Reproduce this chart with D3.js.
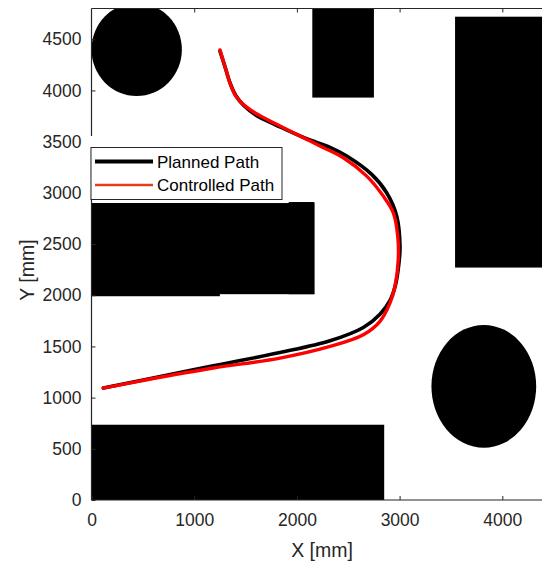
<!DOCTYPE html>
<html>
<head>
<meta charset="utf-8">
<script src="https://cdn.jsdelivr.net/npm/d3@7"></script>
<style>
  html, body { margin: 0; padding: 0; background: #fff; }
  svg { display: block; }
  text { font-family: "Liberation Sans", Arial, Helvetica, sans-serif; }
</style>
</head>
<body>
<svg id="chart" width="542" height="562"></svg>
<script>
// ---- data ----
const xTicks = [0, 1000, 2000, 3000, 4000];
const yTicks = [0, 500, 1000, 1500, 2000, 2500, 3000, 3500, 4000, 4500];

// rectangular obstacles: [x0, x1, y0, y1] in mm
const rectObstacles = [
  [2150, 2750, 3930, 4800],
  [3540, 4400, 2270, 4720],
  [0, 1250, 1990, 2900],
  [0, 2170, 2010, 2900],
  [1920, 2170, 2010, 2910],
  [0, 2850, 0, 735]
];
// elliptical obstacles: [cx, cy, rx, ry] in mm
const ellipseObstacles = [
  [440, 4400, 440, 455],
  [3820, 1110, 510, 600]
];

const plannedX = [115, 540, 1186, 1835, 2322, 2647, 2809, 2907, 2960, 2994, 3004, 2972, 2874, 2728, 2485, 2322, 2108, 1884, 1740, 1602, 1480, 1405, 1350, 1305, 1251];
const plannedY = [1093, 1180, 1310, 1440, 1555, 1685, 1815, 1950, 2100, 2316, 2478, 2772, 3001, 3180, 3359, 3444, 3523, 3622, 3688, 3758, 3855, 3950, 4070, 4215, 4384];

const controlledX = [115, 537, 1186, 1835, 2322, 2647, 2809, 2907, 2955, 2987, 2982, 2939, 2841, 2680, 2452, 2225, 2062, 1835, 1700, 1575, 1460, 1395, 1345, 1300, 1251];
const controlledY = [1093, 1174, 1289, 1386, 1500, 1614, 1745, 1925, 2087, 2348, 2576, 2805, 2968, 3163, 3343, 3457, 3539, 3653, 3720, 3792, 3880, 3962, 4082, 4232, 4396];

const seriesNames = ["Planned Path", "Controlled Path"];

// ---- layout ----
const svg = d3.select("#chart");
const x = d3.scaleLinear().domain([0, 4400]).range([91.5, 91.5 + 4400 * 0.1027]);
const y = d3.scaleLinear().domain([0, 4800]).range([500, 8.5]);
const pLeft = x(0), pBottom = y(0), pTop = y(4800), pRight = x(4400);

svg.append("defs").append("clipPath").attr("id", "plotclip")
  .append("rect").attr("x", pLeft).attr("y", pTop).attr("width", pRight - pLeft).attr("height", pBottom - pTop);

const plot = svg.append("g").attr("clip-path", "url(#plotclip)");

// obstacles
plot.selectAll("rect.obs").data(rectObstacles).enter().append("rect")
  .attr("class", "obs")
  .attr("x", d => x(d[0]))
  .attr("y", d => y(d[3]))
  .attr("width", d => x(d[1]) - x(d[0]))
  .attr("height", d => y(d[2]) - y(d[3]))
  .attr("fill", "#000");

plot.selectAll("ellipse.obs").data(ellipseObstacles).enter().append("ellipse")
  .attr("class", "obs")
  .attr("cx", d => x(d[0]))
  .attr("cy", d => y(d[1]))
  .attr("rx", d => x(d[2]) - x(0))
  .attr("ry", d => y(0) - y(d[3]))
  .attr("fill", "#000");

// paths
const line = d3.line().x(d => x(d[0])).y(d => y(d[1])).curve(d3.curveCatmullRom.alpha(0.5));
const planned = plannedX.map((v, i) => [v, plannedY[i]]);
const controlled = controlledX.map((v, i) => [v, controlledY[i]]);

plot.append("path").datum(planned).attr("d", line)
  .attr("fill", "none").attr("stroke", "#000").attr("stroke-width", 3.6)
  .attr("stroke-linejoin", "round").attr("stroke-linecap", "round");
plot.append("path").datum(controlled).attr("d", line)
  .attr("fill", "none").attr("stroke", "#ff0000").attr("stroke-width", 3.4)
  .attr("stroke-linejoin", "round").attr("stroke-linecap", "round");

// axes
const axisColor = "#262626";
const xAxis = svg.append("g").attr("transform", `translate(0,${pBottom})`)
  .call(d3.axisBottom(x).tickValues(xTicks).tickSize(-4).tickPadding(14).tickFormat(d3.format("d")));
const xTop = svg.append("g").attr("transform", `translate(0,${pTop})`)
  .call(d3.axisTop(x).tickValues(xTicks).tickSize(-4).tickFormat(""));
const yAxis = svg.append("g").attr("transform", `translate(${pLeft},0)`)
  .call(d3.axisLeft(y).tickValues(yTicks).tickSize(-4).tickPadding(10).tickFormat(d3.format("d")));

[xAxis, xTop, yAxis].forEach(g => {
  g.select(".domain").remove();
  g.selectAll(".tick line").attr("stroke", axisColor).attr("stroke-width", 1);
  g.selectAll(".tick text").attr("fill", "#262626").attr("font-size", 17.5);
});
xTop.selectAll(".tick").filter(d => d === 0).remove();

// box lines
svg.append("line").attr("x1", pLeft).attr("x2", pLeft).attr("y1", pTop).attr("y2", pBottom)
  .attr("stroke", axisColor).attr("stroke-width", 1.2);
svg.append("line").attr("x1", pLeft).attr("x2", pRight).attr("y1", pBottom).attr("y2", pBottom)
  .attr("stroke", axisColor).attr("stroke-width", 1.2);
svg.append("line").attr("x1", pLeft).attr("x2", pRight).attr("y1", pTop).attr("y2", pTop)
  .attr("stroke", axisColor).attr("stroke-width", 1.2);

// axis labels
svg.append("text").attr("x", 322).attr("y", 557).attr("text-anchor", "middle")
  .attr("font-size", 19.5).attr("fill", "#262626").text("X [mm]");
svg.append("text").attr("transform", "translate(34,270) rotate(-90)").attr("text-anchor", "middle")
  .attr("font-size", 19.5).attr("fill", "#262626").text("Y [mm]");

// legend
const lg = svg.append("g");
lg.append("rect").attr("x", 86).attr("y", 136).attr("width", 200).attr("height", 12).attr("fill", "#fff");
lg.append("rect").attr("x", 91).attr("y", 147.5).attr("width", 191).attr("height", 52)
  .attr("fill", "#fff").attr("stroke", axisColor).attr("stroke-width", 1);
const legendColors = ["#000", "#e0401a"];
const legendWidths = [3.8, 2.6];
seriesNames.forEach((name, i) => {
  const cy = 161.5 + i * 23.5;
  lg.append("line").attr("x1", 95).attr("x2", 153).attr("y1", cy).attr("y2", cy)
    .attr("stroke", legendColors[i]).attr("stroke-width", legendWidths[i]);
  lg.append("text").attr("x", 157).attr("y", cy).attr("dy", "0.36em")
    .attr("font-size", 17).attr("fill", "#000").text(name);
});
</script>
</body>
</html>
